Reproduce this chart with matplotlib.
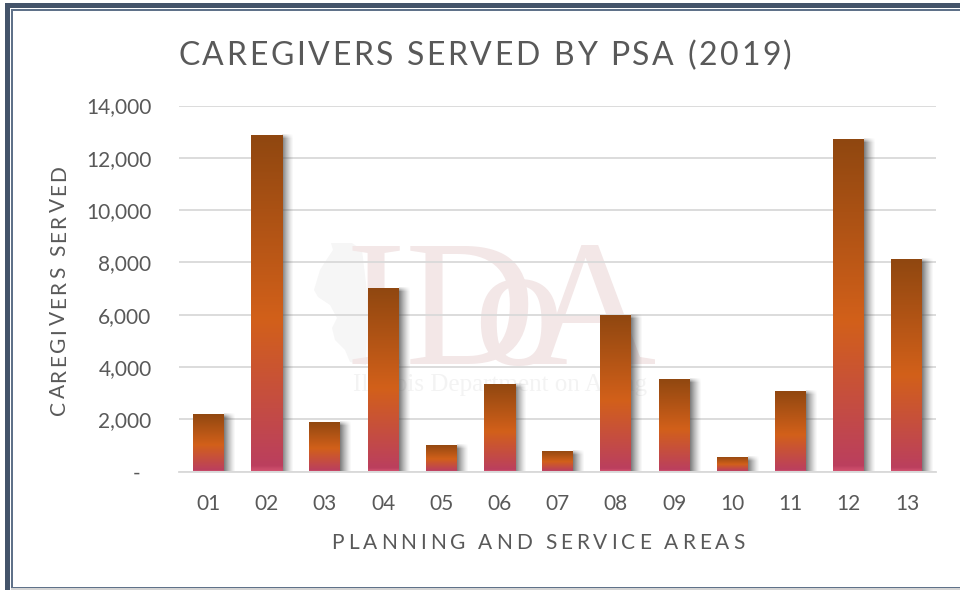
import math
import numpy as np
import matplotlib
matplotlib.use("Agg")
import matplotlib.pyplot as plt
from matplotlib.colors import LinearSegmentedColormap
from matplotlib.patches import Polygon, Rectangle
from matplotlib.text import Text
from matplotlib.transforms import ScaledTranslation

# values
areas = ["01", "02", "03", "04", "05", "06", "07", "08", "09", "10", "11", "12", "13"]
caregivers = [2200, 12870, 1900, 7020, 1020, 3350, 790, 5990, 3540, 560, 3080, 12720, 8130]
y_ticks = [0, 2000, 4000, 6000, 8000, 10000, 12000, 14000]
y_tick_labels = ["-", "2,000", "4,000", "6,000", "8,000", "10,000", "12,000", "14,000"]

W, H = 960, 590
TEXT = "#595959"
FRAME = "#44546a"

plt.rcParams["font.family"] = ["Lato", "DejaVu Sans"]


# matplotlib has no letter spacing, so spread the glyphs over a given width in pixels
class SpacedText(Text):
    def __init__(self, *args, span=0, **kwargs):
        super().__init__(*args, **kwargs)
        self.span = span

    def draw(self, renderer):
        s = self.get_text()
        fp = self.get_fontproperties()
        w = lambda t: renderer.get_text_width_height_descent(t, fp, False)[0]
        gap = (self.span - w(s)) / (len(s) - 1)
        cx, cy = self.get_transform().transform(self.get_position())
        angle = self.get_rotation()
        dx, dy = math.cos(math.radians(angle)), math.sin(math.radians(angle))
        gc = renderer.new_gc()
        gc.set_foreground(self.get_color())
        for i, ch in enumerate(s):
            d = w(s[:i]) + gap * i - self.span / 2 if i else -self.span / 2
            x, y = cx + d * dx, cy + d * dy
            if ch != " ":
                renderer.draw_text(gc, x, H - y, ch, fp, angle)
        gc.restore()


def px(x, y):
    return x / W, 1 - y / H


def frame_rect(x0, y0, x1, y1, color):
    fig.add_artist(Rectangle(px(x0, y1), (x1 - x0) / W, (y1 - y0) / H, color=color, lw=0, zorder=5))


fig = plt.figure(figsize=(9.6, 5.9), dpi=100, facecolor="white")
ax = fig.add_axes([179.4 / W, 1 - 471.5 / H, (936 - 179.4) / W, 366 / H])
ax.patch.set_visible(False)

# frame, cut off on the right in the picture
frame_rect(5, 3, 960, 8, FRAME)
frame_rect(5, 3, 10, 590, FRAME)
frame_rect(11, 9, 960, 10.5, "#5f7189")
frame_rect(11, 9, 12.5, 587, "#5f7189")
frame_rect(11, 586.5, 960, 588, "#5f7189")
frame_rect(11, 588, 960, 590, "#d4d4d4")

# watermark behind the chart
state = [(331, 243), (352, 243), (362, 250), (368, 300), (366, 365), (350, 362), (345, 350),
         (335, 340), (332, 328), (337, 318), (330, 305), (318, 297), (314, 290), (320, 270),
         (325, 262), (333, 250)]
fig.add_artist(Polygon([px(*p) for p in state], color="#f6f6f6", lw=0, zorder=-3))
for s, x, size in [("ID", 345, 130), ("o", 473, 130), ("A", 525, 130)]:
    fig.text(*px(x, 364), s, color="#f3e7e7", family="Liberation Serif", fontsize=size,
             va="baseline", ha="left", zorder=-2)
fig.text(*px(500, 391), "Illinois Department on Aging", color="#f3f3f3",
         family="Liberation Serif", fontsize=18, va="baseline", ha="center", zorder=-2)

x = np.arange(len(areas))
bars = ax.bar(x, caregivers, width=31 / 58.2, color="none", zorder=4)

grad = LinearSegmentedColormap.from_list(
    "bar", [(0, "#8f4710"), (0.55, "#d2601a"), (0.985, "#bb3f5e"), (1, "#d0506e")])
xpx = 58.2
ypx = 14000 / 366
for b in bars:
    x0, x1, h = b.get_x(), b.get_x() + b.get_width(), b.get_height()
    # soft shadow on the right of the bar
    nx = 13
    ny = max(int(h / ypx), 2)
    fx = np.linspace(1, 0, nx) ** 1.3
    fy = np.clip((np.arange(ny) + 1) / 5, 0, 1)
    shade = np.zeros((ny, nx, 4))
    shade[..., :3] = 0.3
    shade[..., 3] = 0.72 * np.outer(fy, fx)
    ax.imshow(shade, extent=(x1, x1 + 12 / xpx, 0, h), aspect="auto", zorder=3, interpolation="bilinear")
    im = ax.imshow(np.linspace(0, 1, 256)[:, None], extent=(x0, x1, 0, h), cmap=grad, aspect="auto",
                   zorder=4, vmin=0, vmax=1)
    im.set_clip_path(b)

ax.set_xlim(-0.5, len(areas) - 0.5)
ax.set_ylim(0, 14000)
ax.set_xticks(x, areas)
ax.set_yticks(y_ticks, y_tick_labels)
ax.tick_params(length=0, labelsize=15, labelcolor=TEXT)
ax.tick_params(axis="x", pad=16.5)
ax.tick_params(axis="y", pad=20)
ax.grid(axis="y", color="#d9d9d9", lw=1.3, zorder=1)
ax.set_axisbelow(True)
for side in ["top", "right", "left"]:
    ax.spines[side].set_visible(False)
ax.spines["bottom"].set_color("#d9d9d9")
ax.spines["bottom"].set_linewidth(1.3)

# the dash for zero sits further left than the numbers
dash = ax.get_yticklabels()[0]
dash.set_transform(dash.get_transform() + ScaledTranslation(-0.11, 0, fig.dpi_scale_trans))

t = fig.transFigure
fig.add_artist(SpacedText(*px(485, 65), "CAREGIVERS SERVED BY PSA (2019)", span=614, color=TEXT,
                          fontsize=23, ha="center", transform=t))
fig.add_artist(SpacedText(*px(538, 549), "PLANNING AND SERVICE AREAS", span=413, color=TEXT,
                          fontsize=15, ha="center", transform=t))
fig.add_artist(SpacedText(*px(65, 290), "CAREGIVERS SERVED", span=250, color=TEXT,
                          fontsize=15, rotation=90, ha="center", va="center", transform=t))

fig.savefig("out.png", dpi=100)
